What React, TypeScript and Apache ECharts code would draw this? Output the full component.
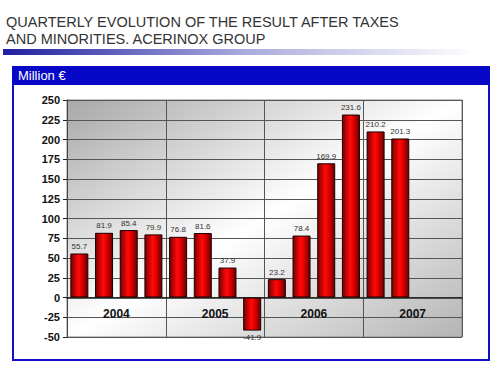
import React, { useEffect, useRef } from "react";
import * as echarts from "echarts";

const quarters = [
  "2004 Q1", "2004 Q2", "2004 Q3", "2004 Q4",
  "2005 Q1", "2005 Q2", "2005 Q3", "2005 Q4",
  "2006 Q1", "2006 Q2", "2006 Q3", "2006 Q4",
  "2007 Q1", "2007 Q2", "2007 Q3", "2007 Q4",
];
const results: (number | null)[] = [
  55.7, 81.9, 85.4, 79.9,
  76.8, 81.6, 37.9, -41.9,
  23.2, 78.4, 169.9, 231.6,
  210.2, 201.3, null, null,
];
const years = ["2004", "2005", "2006", "2007"];
const titleLines = [
  "QUARTERLY EVOLUTION OF THE RESULT AFTER TAXES",
  "AND MINORITIES. ACERINOX GROUP",
];
const unitLabel = "Million €";

export default function App() {
  const ref = useRef<HTMLDivElement>(null);
  useEffect(() => {
    if (!ref.current) return;
    const chart = echarts.init(ref.current, undefined, { renderer: "svg" });
    const barGrad = new echarts.graphic.LinearGradient(0, 0, 1, 0, [
      { offset: 0, color: "#7a0000" },
      { offset: 0.45, color: "#ff0a0a" },
      { offset: 0.6, color: "#ee0000" },
      { offset: 1, color: "#6a0000" },
    ]);
    chart.setOption({
      animation: false,
      backgroundColor: "#ffffff",
      textStyle: { fontFamily: "Liberation Sans, Arial, sans-serif" },
      graphic: [
        {
          type: "text",
          left: 6,
          top: 13,
          z: -30,
          style: {
            text: titleLines.join("\n"),
            font: "14.5px 'Liberation Sans', Arial, sans-serif",
            lineHeight: 17,
            fill: "#333333",
          },
        },
        {
          type: "rect",
          z: -30,
          shape: { x: 3, y: 49, width: 472, height: 6 },
          style: {
            fill: new echarts.graphic.LinearGradient(0, 0, 1, 0, [
              { offset: 0, color: "#1f1fa0" },
              { offset: 0.5, color: "#a8a8dc" },
              { offset: 1, color: "#ffffff" },
            ]),
          },
        },
        {
          type: "rect",
          z: -30,
          shape: { x: 13, y: 67, width: 476, height: 293 },
          style: { fill: "#ffffff", stroke: "#1010c8", lineWidth: 2 },
        },
        {
          type: "rect",
          z: -25,
          shape: { x: 12, y: 66, width: 478, height: 19 },
          style: { fill: "#0707c8" },
        },
        {
          type: "text",
          left: 18,
          top: 69,
          z: -20,
          style: {
            text: unitLabel,
            font: "13px 'Liberation Sans', Arial, sans-serif",
            fill: "#ffffff",
          },
        },
        {
          type: "rect",
          z: -20,
          shape: { x: 67, y: 100, width: 395, height: 237 },
          style: {
            fill: new echarts.graphic.LinearGradient(0, 0, 1, 1, [
              { offset: 0, color: "#a8a8a8" },
              { offset: 0.5, color: "#ffffff" },
              { offset: 1, color: "#b4b4b4" },
            ]),
            stroke: "#888888",
            lineWidth: 1,
          },
        },
      ],
      grid: {
        left: 67,
        top: 100,
        width: 395,
        height: 237,
      },
      xAxis: [
        {
          type: "category",
          data: quarters,
          axisLine: { onZero: true, lineStyle: { color: "#222222", width: 1.5 } },
          axisTick: { show: false },
          axisLabel: { show: false },
          splitLine: { show: false },
        },
        {
          type: "category",
          data: years,
          position: "bottom",
          offset: -35,
          axisLine: { show: false },
          axisTick: { show: false },
          axisLabel: {
            margin: 6,
            fontSize: 12,
            fontWeight: "bold",
            color: "#111111",
          },
          splitLine: { show: true, lineStyle: { color: "#555555", width: 1 } },
        },
      ],
      yAxis: {
        type: "value",
        min: -50,
        max: 250,
        interval: 25,
        axisLine: { show: true, lineStyle: { color: "#444444" } },
        axisTick: { show: true, length: 4, lineStyle: { color: "#222222" } },
        axisLabel: { fontSize: 11, fontWeight: "bold", color: "#111111", margin: 7 },
        splitLine: { show: true, lineStyle: { color: "#555555", width: 1 } },
      },
      series: [
        {
          type: "bar",
          xAxisIndex: 0,
          barWidth: 18,
          data: results.map((v) =>
            v !== null && v < 0
              ? { value: v, label: { position: "bottom" } }
              : v
          ),
          itemStyle: { color: barGrad, borderColor: "#1a0000", borderWidth: 1 },
          label: {
            show: true,
            position: "top",
            distance: 3,
            fontSize: 8,
            color: "#333333",
            formatter: (p: any) => Number(p.value).toFixed(1),
          },
        },
      ],
    });
    return () => chart.dispose();
  }, []);
  return (
    <div
      ref={ref}
      style={{ position: "fixed", left: 0, top: 0, width: 500, height: 372 }}
    />
  );
}
